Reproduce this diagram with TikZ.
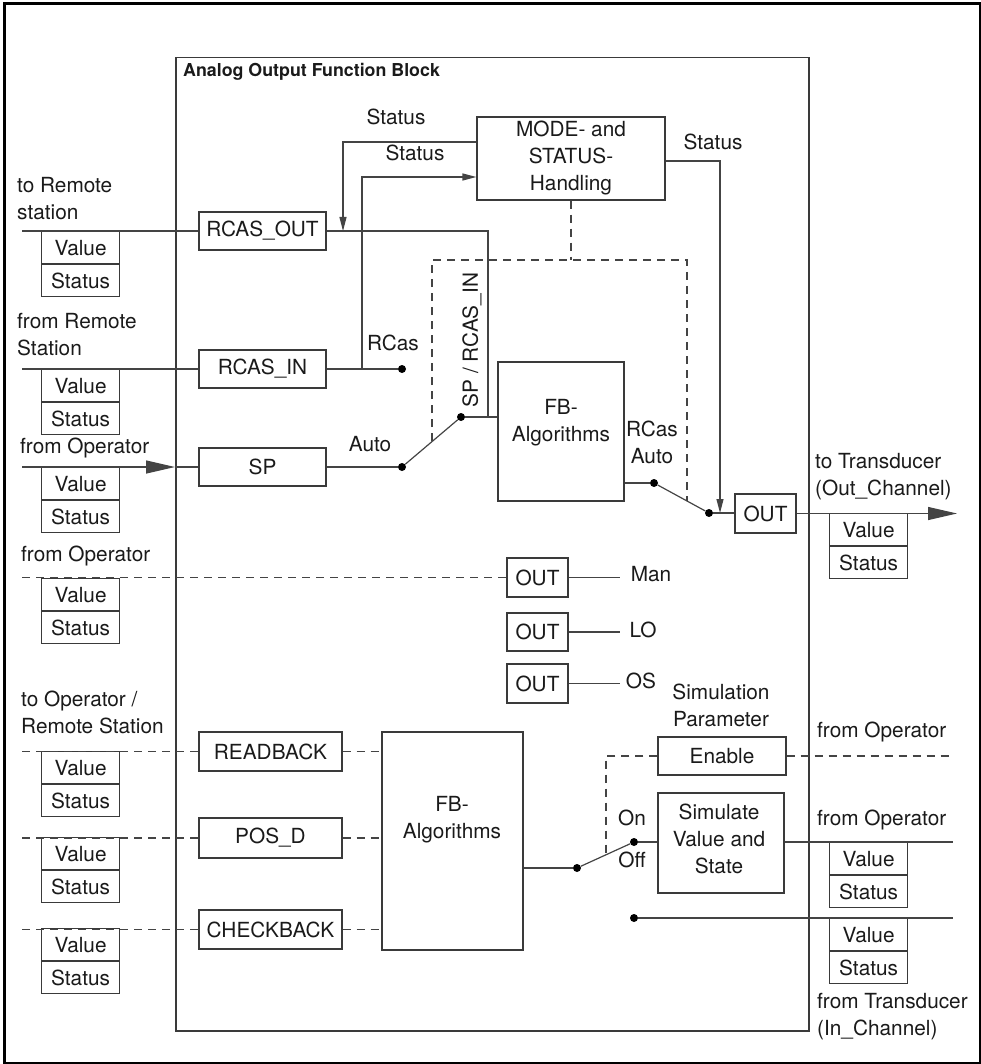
\documentclass[tikz,border=0pt]{standalone}
\usepackage{fontspec}
\setmainfont{TeX Gyre Heros}
\usetikzlibrary{arrows.meta}
\definecolor{ln}{HTML}{444444}
\definecolor{bx}{HTML}{3A3A3A}
\definecolor{tx}{HTML}{1A1A1A}
\newcommand\fs{\fontsize{20.8}{27}\selectfont}
\newcommand\vsbox[3]{%
  \node[vs, anchor=north west] (#1v) at (#2,#3) {Value};
  \node[vs, anchor=north] (#1s) at (#1v.south) {Status};}
\begin{document}
\begin{tikzpicture}[x=1pt,y=-1pt,
  box/.style={draw=bx, line width=1.2pt, inner sep=0pt, font=\fs, text=tx, align=center},
  vs/.style={draw=bx, line width=1.2pt, inner sep=0pt, font=\fs, text=tx, minimum width=78pt, minimum height=32pt},
  lab/.style={inner sep=0pt, font=\fs, text=tx},
  con/.style={draw=ln, line width=1.2pt},
  dsh/.style={draw=ln, line width=1.2pt, dash pattern=on 8pt off 6pt},
  dotn/.style={circle, fill=black, inner sep=0pt, minimum size=8pt},
  bigarrow/.style={-{Triangle[length=29pt,width=13pt]}},
  smallarrow/.style={-{Triangle[length=14pt,width=7pt]}}]
\useasboundingbox (0,0) rectangle (981,1064);
\node[draw=black, line width=3pt, minimum width=976pt, minimum height=1059pt, anchor=north west, inner sep=0pt] (frame) at (2.5,2.5) {};
\node[draw=bx, line width=1.5pt, minimum width=633pt, minimum height=973pt, anchor=north west, inner sep=0pt] (afb) at (175,57) {};
\node[anchor=west, inner sep=0pt, text=tx, font=\bfseries\fontsize{17.8}{20}\selectfont] (title) at (183,72) {Analog Output Function Block};

% boxes
\node[box, minimum width=188pt, minimum height=83pt] (mode) at (571,158.5) {MODE- and\\STATUS-\\Handling};
\node[box, minimum width=127pt, minimum height=38pt] (rcasout) at (262.5,231) {RCAS\_OUT};
\node[box, minimum width=127pt, minimum height=38pt] (rcasin) at (262.5,369) {RCAS\_IN};
\node[box, minimum width=127pt, minimum height=38pt] (sp) at (262.5,467) {SP};
\node[box, minimum width=126pt, minimum height=139pt] (fba) at (561,431.5) {};
\node[lab, align=center] (fbat) at (561,423) {FB-\\Algorithms};
\node[box, minimum width=61pt, minimum height=39pt] (outm) at (765.5,513.5) {OUT};
\node[box, minimum width=61pt, minimum height=39pt] (outman) at (537.5,577.5) {OUT};
\node[box, minimum width=61pt, minimum height=38pt] (outlo) at (537.5,632) {OUT};
\node[box, minimum width=61pt, minimum height=39pt] (outos) at (537.5,683.5) {OUT};
\node[box, minimum width=143pt, minimum height=39pt] (readback) at (270.5,751.5) {READBACK};
\node[box, minimum width=143pt, minimum height=40pt] (posd) at (270.5,838) {POS\_D};
\node[box, minimum width=143pt, minimum height=39pt] (checkback) at (270.5,929.5) {CHECKBACK};
\node[box, minimum width=141pt, minimum height=218pt] (fbb) at (452.5,841) {};
\node[lab, align=center] (fbbt) at (452,820) {FB-\\Algorithms};
\node[box, minimum width=128pt, minimum height=38pt] (enable) at (722,756) {Enable};
\node[box, minimum width=126pt, minimum height=100pt] (simulate) at (721,843) {};
\node[lab, align=center] (simt) at (719,839) {Simulate\\Value and\\State};

% value/status boxes
\vsbox{a}{41}{231}
\vsbox{b}{41}{369}
\vsbox{c}{41}{467}
\vsbox{d}{41}{578}
\vsbox{e}{41}{751}
\vsbox{f}{41}{837}
\vsbox{g}{41}{928}
\vsbox{h}{829}{513}
\vsbox{i}{829}{842}
\vsbox{j}{829}{918}

% outside labels
\node[lab, align=left, anchor=west] (tRem) at (17,198.5) {to Remote\\station};
\node[lab, align=left, anchor=west] (fRem) at (17,335) {from Remote\\Station};
\node[lab, anchor=west] (fOp1) at (20,448) {from Operator};
\node[lab, anchor=west] (fOp2) at (21,556) {from Operator};
\node[lab, align=left, anchor=west] (tOp) at (21,712.5) {to Operator /\\Remote Station};
\node[lab, align=left, anchor=west] (tTr) at (815,476.5) {to Transducer\\(Out\_Channel)};
\node[lab, anchor=west] (fOp3) at (817,732) {from Operator};
\node[lab, anchor=west] (fOp4) at (817,820) {from Operator};
\node[lab, align=left, anchor=west] (fTr) at (817,1017) {from Transducer\\(In\_Channel)};

% inside labels
\node[lab] (st1) at (396,117) {Status};
\node[lab] (st2) at (415,153) {Status};
\node[lab] (st3) at (713,142) {Status};
\node[lab] (rcas1) at (393,343) {RCas};
\node[lab] (auto1) at (370,444) {Auto};
\node[lab, rotate=90] (sprc) at (472,340) {SP / RCAS\_IN};
\node[lab, align=center] (ra) at (652,442.5) {RCas\\Auto};
\node[lab] (man) at (651,574) {Man};
\node[lab] (lo) at (643,630) {LO};
\node[lab] (os) at (641,681) {OS};
\node[lab, align=center] (simp) at (721,705.5) {Simulation\\Parameter};
\node[lab] (on) at (632,818) {On};
\node[lab] (off) at (632,860) {Off};

% dots
\node[dotn] (drcas) at (402,369) {};
\node[dotn] (dsp) at (461,417) {};
\node[dotn] (dauto) at (402,467) {};
\node[dotn] (dfb) at (654,483) {};
\node[dotn] (dout) at (709,513) {};
\node[dotn] (doff) at (577,868) {};
\node[dotn] (don) at (634,842) {};
\node[dotn] (dtr) at (634,918) {};

% coordinates
\coordinate (inA) at (22,231);
\coordinate (inB) at (22,369);
\coordinate (inC) at (22,467);
\coordinate (bC) at (175,467);
\coordinate (inD) at (22,577.5);
\coordinate (inE) at (22,751.5);
\coordinate (inF) at (22,838);
\coordinate (inG) at (22,929.5);
\coordinate (j1) at (488,231);
\coordinate (j2) at (488,417);
\coordinate (s1) at (343,142);
\coordinate (s1e) at (343,231);
\coordinate (s2a) at (362,369);
\coordinate (s2b) at (362,177);
\coordinate (s3) at (720,161);
\coordinate (s3e) at (720,513);
\coordinate (da) at (432,441);
\coordinate (db) at (432,260);
\coordinate (dc) at (687,260);
\coordinate (dd) at (687,501);
\coordinate (outE) at (957,513.5);
\coordinate (manE) at (620,577.5);
\coordinate (loE) at (620,632);
\coordinate (osE) at (620,683.5);
\coordinate (en1) at (606,756);
\coordinate (en2) at (606,853);
\coordinate (enE) at (953,756);
\coordinate (siE) at (953,842);
\coordinate (trE) at (953,918);

% connectors
\draw[con] (inA) -- (rcasout.west);
\draw[con] (rcasout.east) -- (j1) -- (j2);
\draw[con] (dsp) -- (dsp -| fba.west);
\draw[con, smallarrow] (mode.west |- s1) -- (s1) -- (s1e);
\draw[con, smallarrow] (s2a) -- (s2b) -- (mode.west |- s2b);
\draw[con] (inB) -- (rcasin.west);
\draw[con] (rcasin.east) -- (drcas);
\draw[con, bigarrow] (inC) -- (bC);
\draw[con] (bC) -- (sp.west);
\draw[con] (sp.east) -- (dauto);
\draw[con] (dauto) -- (dsp);
\draw[dsh] (da) -- (db) -- (dc) -- (dd);
\draw[dsh] (mode.south) -- (mode.south |- db);
\draw[con] (fba.east |- dfb) -- (dfb);
\draw[con] (dfb) -- (dout);
\draw[con] (dout) -- (outm.west |- dout);
\draw[con, smallarrow] (mode.east |- s3) -- (s3) -- (s3e);
\draw[con, bigarrow] (outm.east) -- (outE);
\draw[dsh] (inD) -- (outman.west);
\draw[con] (outman.east) -- (manE);
\draw[con] (outlo.east) -- (loE);
\draw[con] (outos.east) -- (osE);
\draw[dsh] (inE) -- (readback.west);
\draw[dsh] (readback.east) -- (readback.east -| fbb.west);
\draw[dsh] (inF) -- (posd.west);
\draw[dsh] (posd.east) -- (posd.east -| fbb.west);
\draw[dsh] (inG) -- (checkback.west);
\draw[dsh] (checkback.east) -- (checkback.east -| fbb.west);
\draw[con] (fbb.east |- doff) -- (doff);
\draw[con] (doff) -- (don);
\draw[con] (don) -- (simulate.west |- don);
\draw[con] (simulate.east |- don) -- (siE);
\draw[dsh] (enable.west) -- (en1) -- (en2);
\draw[dsh] (enable.east) -- (enE);
\draw[con] (dtr) -- (trE);
\end{tikzpicture}
\end{document}
